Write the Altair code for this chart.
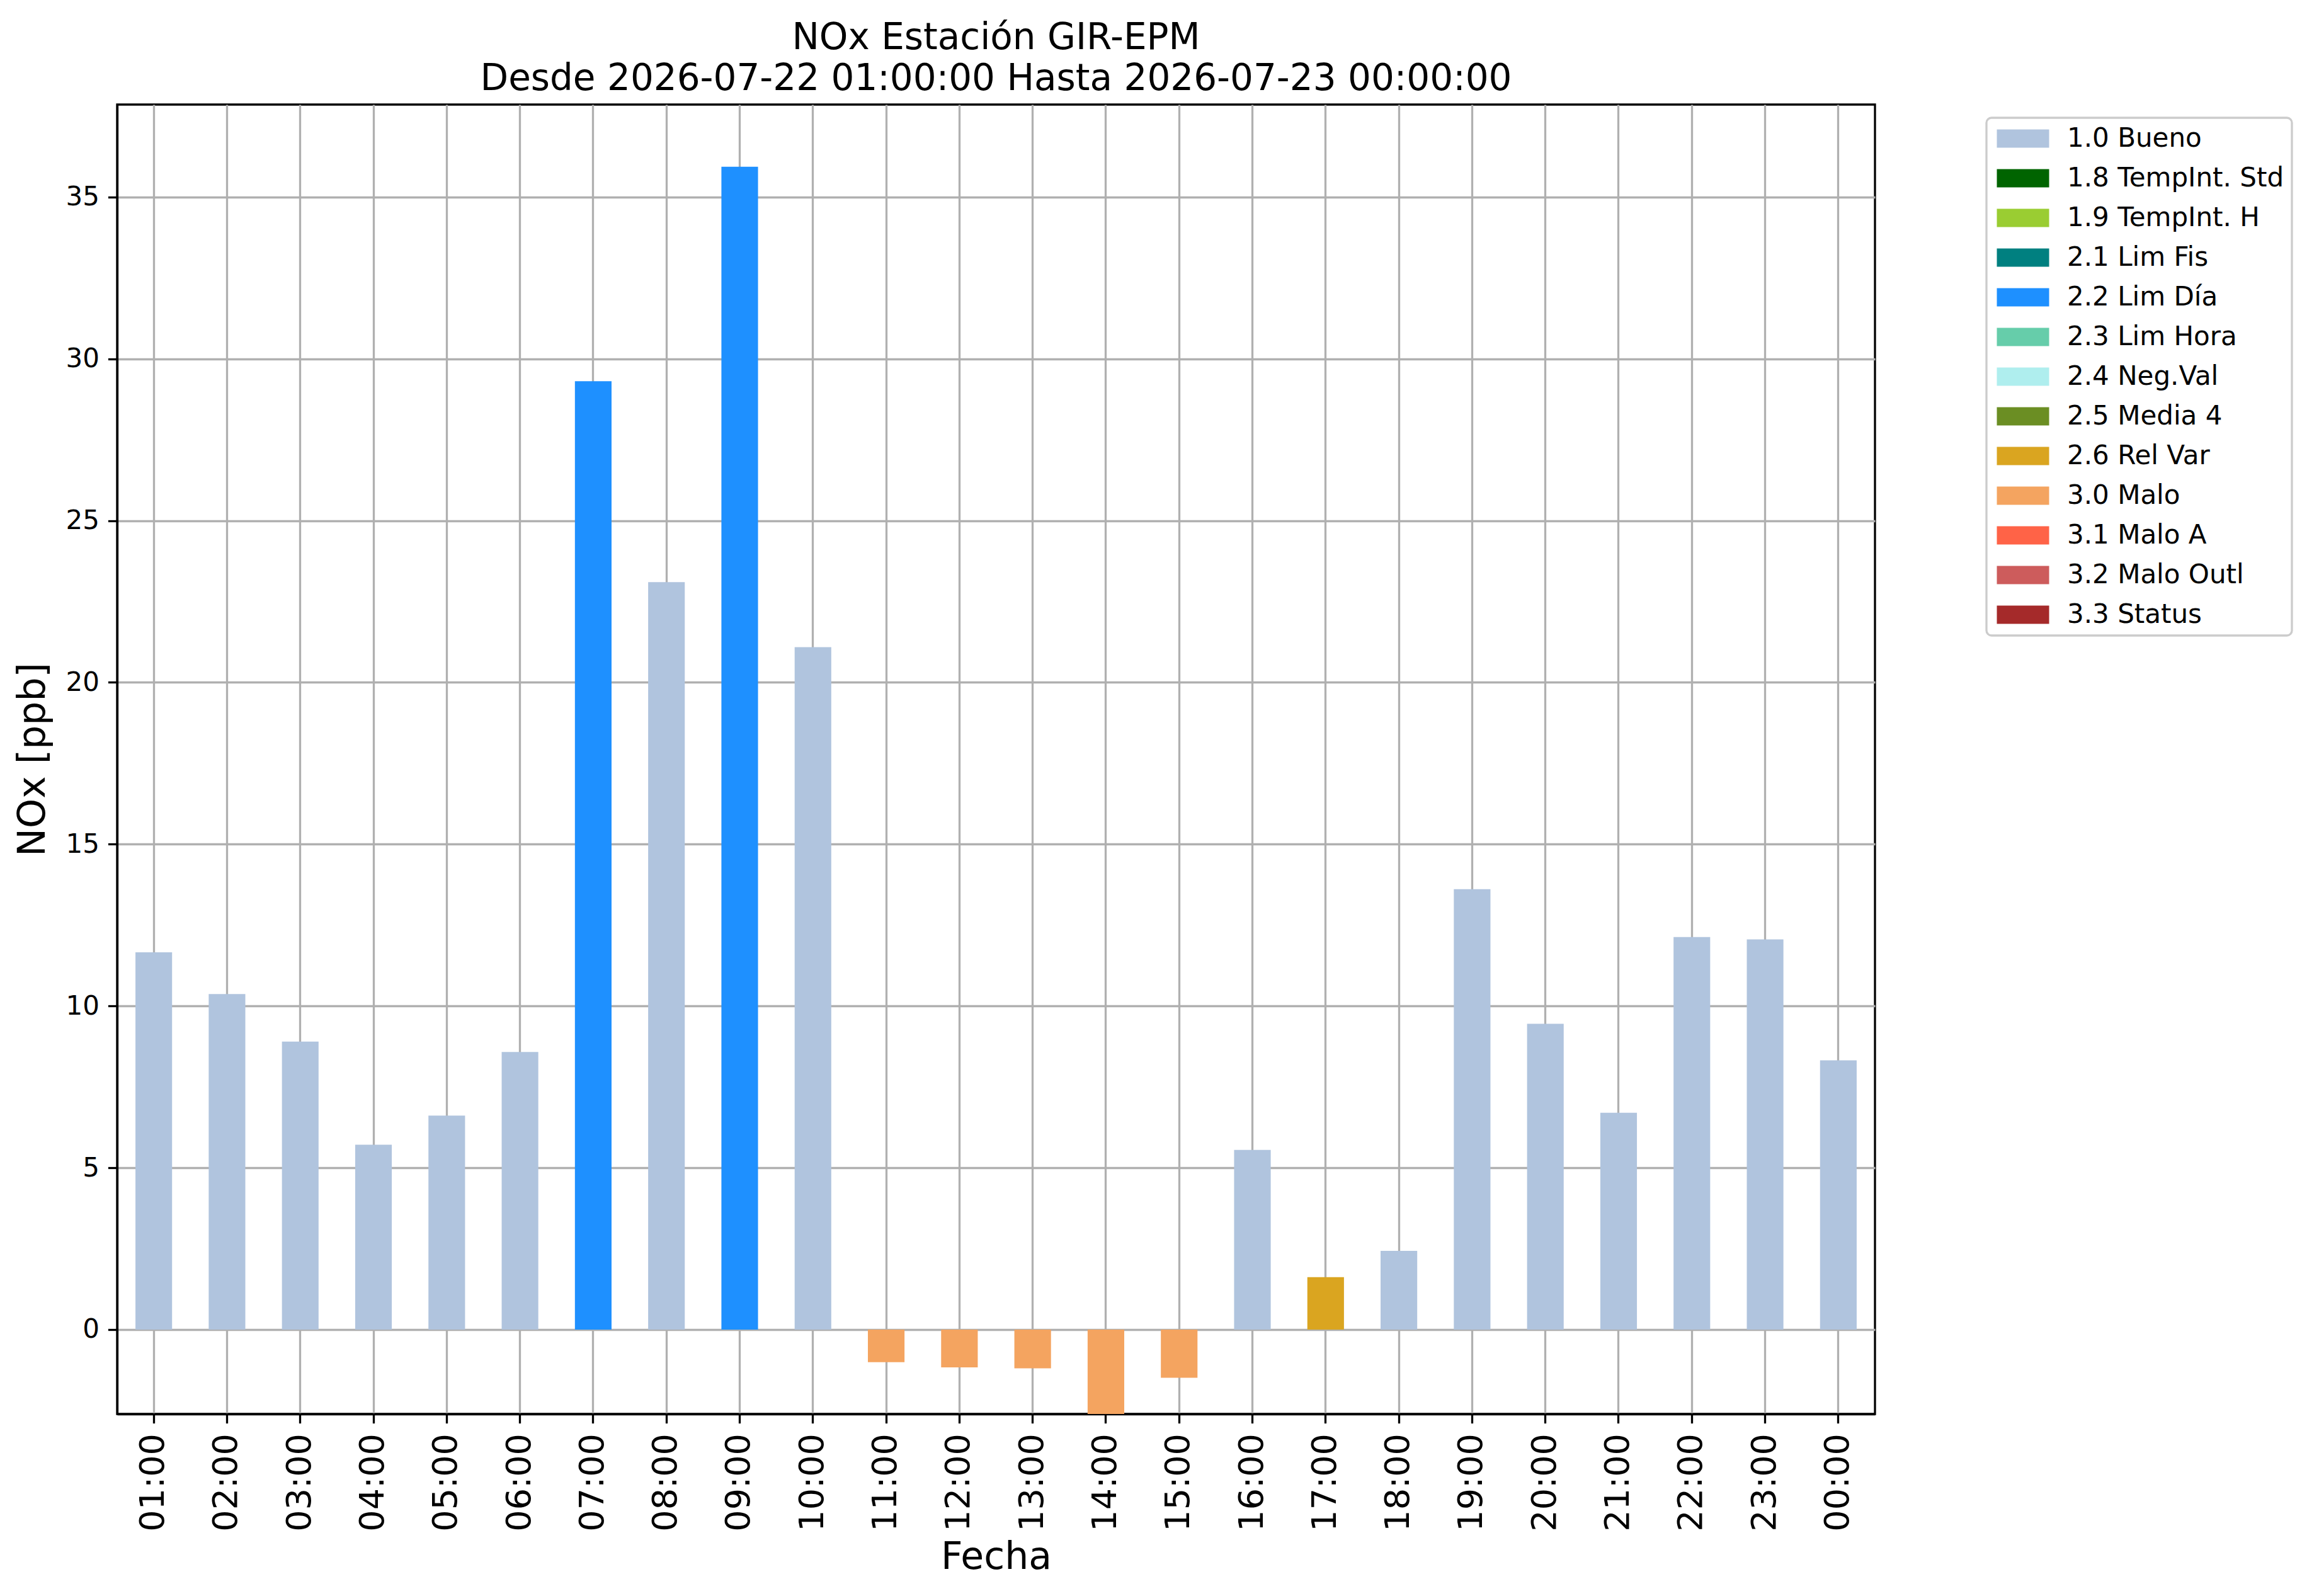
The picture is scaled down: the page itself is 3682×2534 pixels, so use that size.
import altair as alt
import pandas as pd

hours = ["01:00", "02:00", "03:00", "04:00", "05:00", "06:00", "07:00", "08:00",
         "09:00", "10:00", "11:00", "12:00", "13:00", "14:00", "15:00", "16:00",
         "17:00", "18:00", "19:00", "20:00", "21:00", "22:00", "23:00", "00:00"]
values = [11.66, 10.37, 8.90, 5.71, 6.61, 8.58, 29.31, 23.10,
          35.94, 21.09, -1.01, -1.17, -1.20, -2.61, -1.49, 5.55,
          1.62, 2.43, 13.61, 9.45, 6.70, 12.13, 12.06, 8.32]
flags = ["1.0 Bueno"] * 6 + ["2.2 Lim Día", "1.0 Bueno", "2.2 Lim Día", "1.0 Bueno"] + \
        ["3.0 Malo"] * 5 + ["1.0 Bueno", "2.6 Rel Var"] + ["1.0 Bueno"] * 7

categories = ["1.0 Bueno", "1.8 TempInt. Std", "1.9 TempInt. H", "2.1 Lim Fis",
              "2.2 Lim Día", "2.3 Lim Hora", "2.4 Neg.Val", "2.5 Media 4",
              "2.6 Rel Var", "3.0 Malo", "3.1 Malo A", "3.2 Malo Outl", "3.3 Status"]
colors = ["#B0C4DE", "#006400", "#9ACD32", "#008080", "#1E90FF", "#66CDAA",
          "#AFEEEE", "#6B8E23", "#DAA520", "#F4A460", "#FF6347", "#CD5C5C", "#A52A2A"]
y_ticks = [0, 5, 10, 15, 20, 25, 30, 35]

df = pd.DataFrame({"Fecha": hours, "NOx": values, "Flag": flags})

FONT = "DejaVu Sans"

chart = alt.Chart(df).mark_bar(clip=True).encode(
    x=alt.X("Fecha:N", sort=hours,
            scale=alt.Scale(paddingInner=0.5, paddingOuter=0.25),
            axis=alt.Axis(title="Fecha", labelAngle=-90, labelFontSize=54,
                          titleFontSize=60, labelPadding=16, titlePadding=12,
                          bandPosition=0.5, grid=True)),
    y=alt.Y("NOx:Q", scale=alt.Scale(domain=[-2.61, 37.86], nice=False, zero=False),
            axis=alt.Axis(title="NOx [ppb]", values=y_ticks, labelFontSize=42,
                          titleFontSize=60, labelPadding=14, titlePadding=20, grid=True)),
    color=alt.Color("Flag:N", scale=alt.Scale(domain=categories, range=colors),
                    legend=alt.Legend(title=None, orient="none", legendX=2968, legendY=21)),
).properties(
    width=2791,
    height=2079,
    title=alt.Title(["NOx Estación GIR-EPM",
                     "Desde 2026-07-22 01:00:00 Hasta 2026-07-23 00:00:00"],
                    fontSize=58, fontWeight="normal", font=FONT, anchor="middle",
                    frame="group", lineHeight=65, baseline="bottom", offset=15,
                    dy=62, color="black"),
    autosize=alt.AutoSizeParams(type="none"),
    padding={"left": 178, "top": 158, "right": 680, "bottom": 260},
).configure(
    font=FONT,
).configure_view(
    stroke="black", strokeWidth=3.3, fill="white",
).configure_axis(
    labelFont=FONT, titleFont=FONT, labelColor="black", titleColor="black",
    titleFontWeight="normal",
    domainColor="black", domainWidth=3.3, tickColor="black", tickWidth=3.3,
    tickSize=14.6, gridColor="#b0b0b0", gridWidth=3.3, gridOpacity=1, zindex=1,
).configure_legend(
    labelFont=FONT, labelFontSize=42, labelColor="black", labelLimit=0,
    symbolType="M-1.976,-0.69L1.976,-0.69L1.976,0.69L-1.976,0.69Z",
    symbolSize=1764, symbolStrokeWidth=0, symbolOpacity=1,
    symbolOffset=25, labelOffset=49, rowPadding=21,
    padding=12, strokeColor="#cccccc", strokeWidth=3.3, cornerRadius=8,
    fillColor="white",
)

chart.save("out.html", embed_options={"renderer": "svg", "actions": False})
